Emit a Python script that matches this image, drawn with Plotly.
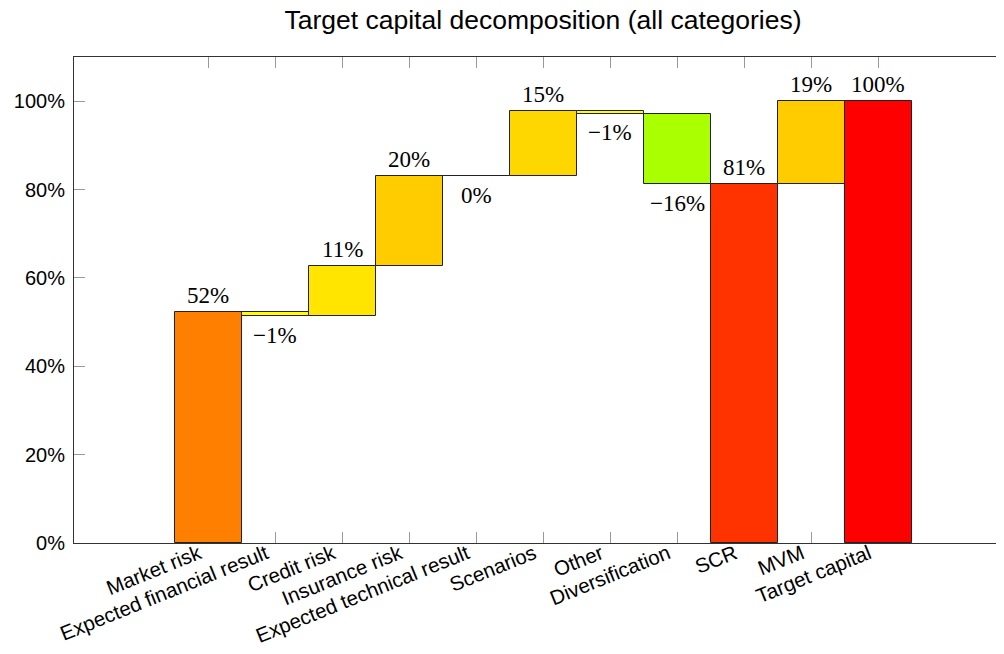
import plotly.graph_objects as go

categories = ["Market risk", "Expected financial result", "Credit risk", "Insurance risk",
              "Expected technical result", "Scenarios", "Other", "Diversification",
              "SCR", "MVM", "Target capital"]
# relative changes (fractions); None marks a total bar
values = [0.5226, -0.0091, 0.1132, 0.2036, 0.0, 0.1471, -0.0064, -0.1595, None, 0.1885, None]
colors = ["#FF7F00", "#FFFF00", "#FFE500", "#FFCC00", "#FFCC00", "#FFD700",
          "#FFFF00", "#AAFF00", "#FF3300", "#FFCC00", "#FF0000"]
y_ticks = [0, 0.2, 0.4, 0.6, 0.8, 1.0]
y_tick_labels = ["0%", "20%", "40%", "60%", "80%", "100%"]

# build waterfall geometry
bases, heights, labels, label_y, label_pos = [], [], [], [], []
running = 0.0
for v in values:
    if v is None:
        bases.append(0.0)
        heights.append(running)
        labels.append(f"{round(running * 100)}%")
        label_y.append(running)
        label_pos.append(1)
    else:
        bases.append(running)
        heights.append(v)
        pct = round(v * 100)
        txt = f"{abs(pct)}%"
        if pct < 0:
            txt = "\u2212" + txt
        labels.append(txt)
        label_y.append(running + v)
        label_pos.append(1 if v > 0 else -1)
        running += v

xs = list(range(len(categories)))

fig = go.Figure()
fig.add_trace(go.Bar(
    x=xs, y=heights, base=bases, width=1.0,
    marker=dict(color=colors, line=dict(color="#222222", width=1)),
    hoverinfo="skip", showlegend=False,
))

annotations = []
for x, t, yv, p in zip(xs, labels, label_y, label_pos):
    annotations.append(dict(
        x=x, y=yv, xref="x", yref="y", text=t, showarrow=False,
        yanchor="middle", xanchor="center",
        yshift=17 if p > 0 else -19,
        font=dict(family="Liberation Serif, Times New Roman, serif", size=23, color="black"),
    ))

H = 646
fig.update_layout(
    width=1004, height=H,
    margin=dict(l=66, r=0, t=49, b=H - 535, autoexpand=False),
    paper_bgcolor="white", plot_bgcolor="white",
    title=dict(text="Target capital decomposition (all categories)",
               x=0.5, xref="paper", y=1 - 12 / H, yref="container",
               xanchor="center", yanchor="middle",
               font=dict(family="Liberation Sans, Arial, sans-serif", size=26.5, color="black")),
    font=dict(family="Liberation Sans, Arial, sans-serif", size=20, color="black"),
    annotations=annotations,
    bargap=0,
)
fig.update_xaxes(
    range=[-2, 12], tickvals=xs, ticktext=categories, tickangle=-22,
    showline=True, mirror="ticks", linecolor="#333333", linewidth=1,
    ticks="inside", ticklen=11, tickcolor="#999999", tickwidth=1,
    showgrid=False, zeroline=False, layer="below traces", automargin=False,
    tickfont=dict(size=20.5, color="black"), ticklabelstandoff=-10, ticklabelshift=-9,
)
fig.update_yaxes(
    range=[0, 1.1], tickvals=y_ticks, ticktext=y_tick_labels,
    showline=True, mirror="ticks", linecolor="#333333", linewidth=1,
    ticks="inside", ticklen=11, tickcolor="#999999", tickwidth=1,
    showgrid=False, zeroline=False, layer="below traces", automargin=False,
    tickfont=dict(size=20, color="black"), ticklabelstandoff=4,
)

fig.write_html("out.html")
